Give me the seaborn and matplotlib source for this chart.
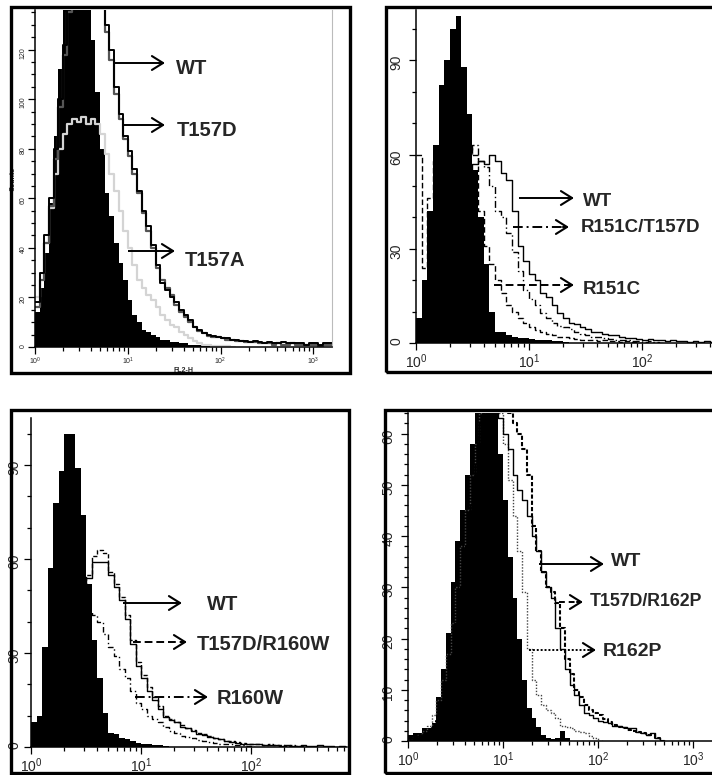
import numpy as np
import seaborn as sns
import matplotlib.pyplot as plt
from matplotlib.patches import Rectangle
from matplotlib.ticker import MultipleLocator

sns.set_style("white")
plt.rcParams['font.family'] = ['Liberation Sans', 'DejaVu Sans']
plt.rcParams['mathtext.fontset'] = 'custom'
plt.rcParams['mathtext.rm'] = 'Liberation Sans'
plt.rcParams['mathtext.it'] = 'Liberation Sans:italic'

# width of one histogram channel, in log10 units of fluorescence
BIN = 0.05

# panel A: counts per channel, starting at 10^0
ctrl_a = [14, 24, 38, 58, 85, 112, 138, 150, 158, 160, 155, 142, 124, 103, 80, 62,
          53, 42, 34, 27, 19, 13, 10, 7, 6, 5, 4, 3, 3, 2, 2, 1.5,
          1.5, 1, 1, 0.8, 0.6, 0.5, 0.4, 0.3, 0]
wt_a = [18, 30, 45, 60, 80, 100, 122, 138, 145, 150, 148, 152, 146, 144, 140, 130,
        120, 105, 94, 85, 79, 72, 63, 55, 49, 41, 33, 26, 23, 20, 18, 15,
        13, 11, 8, 7, 5.5, 5, 4.5, 4, 3.5, 3.5, 3, 3, 2.5, 2.5, 2, 2.5,
        2, 1.5, 2, 1.5, 1.5, 2, 1.5, 1.5, 1.5, 1.5, 1, 1.5, 1.5, 1, 1.5, 1.5]
t157d_a = [16, 27, 42, 57, 76, 97, 118, 135, 143, 147, 150, 147, 149, 143, 137, 127,
           116, 102, 92, 84, 77, 70, 62, 54, 47, 40, 32, 27, 24, 21, 17, 14,
           12, 10, 8, 6.5, 5.5, 4.5, 4, 4, 3.5, 3, 3, 2.5, 2.5, 2, 2, 2,
           1.5, 1.5, 1.5, 1, 1.5, 1, 1, 1.5, 1, 1, 1, 1, 1, 0.5, 1, 1]
t157a_a = [20, 30, 42, 56, 70, 80, 86, 90, 92, 91, 93, 90, 92, 90, 86, 78,
           70, 63, 55, 47, 40, 33, 27, 24, 21, 19, 16, 13, 11, 9, 8, 6,
           5, 3.5, 2.5, 1.5, 1, 0.8, 0.5, 0.5, 0.3, 0.3, 0]

# panel B
ctrl_b = [8, 20, 42, 63, 82, 90, 100, 104, 88, 73, 55, 40, 25, 10, 3.5, 3.5,
          2.5, 2, 1.5, 1.5, 1.2, 1, 1, 0.8, 0.5, 0.5, 0.3, 0]
wt_b = [5, 6, 9, 14, 20, 27, 34, 42, 50, 55, 57, 58, 57, 60, 58, 54,
        52, 42, 31, 26, 22, 20, 16, 14.5, 12, 9.5, 8, 6.5, 6, 5, 4.5, 3.5,
        3.5, 3, 2.5, 2.5, 2, 1.5, 1.5, 1.2, 1, 1.2, 0.8, 0.8, 0.5, 0.8,
        0.5, 0.5, 0.3, 0.5, 0.3, 0.5, 0.3]
r151c_t157d_b = [4, 5, 8, 13, 19, 26, 34, 43, 52, 60, 63, 58, 56, 50, 42, 40,
                 35, 29, 23, 17, 14, 12, 9.5, 8, 6.5, 5.5, 5, 4.3, 3.5, 3, 2.5, 2,
                 1.8, 1.5, 1.2, 1, 1, 0.8, 0.5, 0.5, 0.3, 0.5, 0.3, 0]
r151c_b = [60, 24, 46, 58, 60, 61, 62, 61, 63, 62, 60, 42, 31, 25, 20, 16,
           12, 10, 8, 6.5, 5, 4, 3.5, 3, 2.5, 2, 1.8, 1.5, 1.2, 1, 1, 0.8,
           0.5, 0.8, 0.5, 0.5, 0.3, 0.5, 0.3, 0]

# panel C
ctrl_c = [8, 10, 32, 57, 78, 88, 100, 100, 89, 74, 52, 34, 22, 11, 4.5, 4,
          3, 2.5, 1.8, 1.2, 1, 0.8, 0.5, 0.5, 0.3, 0]
wt_c = [3, 4, 6, 10, 15, 22, 30, 38, 45, 50, 54, 59, 59, 59, 55, 51,
        47, 41, 33, 26, 22, 18, 15, 12, 9.5, 8.5, 8, 6.5, 6, 5, 4.2, 3.8,
        3.3, 3, 2.5, 2, 1.5, 1.2, 1, 1, 0.8, 0.8, 0.6, 0.5, 0.6, 0.3,
        0.5, 0.3, 0.3, 0.5, 0.3, 0.3, 0.5, 0.3, 0.3, 0, 0.3, 0]
t157d_r160w_c = [3, 4, 6, 9, 14, 21, 29, 37, 44, 50, 55, 61, 63, 62, 56, 52,
                 48, 42, 34, 27, 23, 19, 16, 13, 10, 9, 8, 7, 6, 5.5, 4.5, 4,
                 3.5, 3, 2.5, 2, 1.8, 1.5, 1.2, 1, 1, 0.8, 0.6, 0.8, 0.5, 0.5,
                 0.3, 0.5, 0.3, 0.3, 0]
r160w_c = [3, 4, 7, 11, 17, 23, 29, 35, 39, 42, 43, 42, 40, 36, 32, 29,
           25, 22, 18, 14, 12, 10, 9, 8, 6.5, 5, 4.5, 3.5, 3.3, 2.8, 2.2, 1.8,
           1.5, 1.2, 1, 0.8, 0.8, 0.5, 0.5, 0.3, 0]

# panel D
ctrl_d = [1.2, 1.5, 1.5, 2.5, 2.5, 3.5, 8.5, 14, 21, 31, 39, 45, 52, 58, 64, 68,
          70, 70, 66, 56, 47, 36, 28, 20, 12, 6.5, 4.5, 2.8, 1.2, 0.5, 0.3, 0.5,
          2, 0.5, 0]
wt_d = [0.5, 0.5, 1, 1, 1.5, 2, 4, 7, 11, 16, 23, 30, 38, 46, 54, 62,
        68, 70, 68, 63, 60, 57, 52, 49, 47, 44, 40, 37, 33, 30, 28, 22,
        18, 14, 11, 9, 7, 5.5, 5, 4.5, 4, 3.8, 3.5, 3, 3, 2.8, 2.5, 2.5,
        1.8, 1.5, 1.2, 1.5, 0.5, 0]
t157d_r162p_d = [0.5, 0.8, 1, 1.2, 1.5, 2.5, 4, 7, 11, 16, 22, 29, 36, 44, 52, 60,
                 66, 70, 72, 70, 66, 64, 62, 60, 57, 52, 42, 37, 33, 30, 29, 27,
                 22, 16, 13, 10, 8.5, 7, 6, 5.5, 5, 4.2, 3.8, 3.2, 2.8, 2.5, 2.2, 2,
                 1.8, 1.5, 1.2, 1.2, 0.5, 0]
r162p_d = [0.5, 0.8, 1.2, 2, 3, 5, 8, 12, 17, 23, 30, 38, 45, 52, 58, 64,
           68, 69, 68, 64, 58, 51, 44, 37, 29, 18, 12, 9, 7, 6, 5.5, 4.5,
           3, 2.8, 2.5, 2, 1.8, 1.5, 1, 0.5, 0]

W, H = 712, 775
fig = plt.figure(figsize=(W / 100, H / 100), dpi=100)


def px_axes(left, top, right, bottom):
    return fig.add_axes([left / W, 1 - bottom / H, (right - left) / W, (bottom - top) / H])


def frame(left, top, right, bottom):
    fig.add_artist(Rectangle((left / W, 1 - bottom / H), (right - left) / W, (bottom - top) / H,
                             transform=fig.transFigure, fill=False, lw=2.4, ec='black', zorder=5))


def hist(ax, counts, fill=False, **kw):
    n = len(counts)
    chan = 10 ** ((np.arange(n) + 0.5) * BIN)
    sns.histplot(x=chan, weights=counts, bins=n, binrange=(0, n * BIN), element='step',
                 fill=fill, log_scale=True, ax=ax, **kw)


def style(ax, xmax, ymax, ymajor, yminor, size, ypad):
    ax.set_xlim(1, 10 ** xmax)
    ax.set_ylim(0, ymax)
    ax.yaxis.set_major_locator(MultipleLocator(ymajor))
    ax.yaxis.set_minor_locator(MultipleLocator(yminor))
    ax.set_xlabel('')
    ax.set_ylabel('')
    sns.despine(ax=ax)
    for s in ['left', 'bottom']:
        ax.spines[s].set_linewidth(1.1)
        ax.spines[s].set_color('black')
    ax.tick_params(which='both', direction='out', color='black', width=0.9,
                   left=True, bottom=True, labelsize=size)
    ax.tick_params(which='major', length=5)
    ax.tick_params(which='minor', length=3)
    ax.tick_params(axis='y', labelrotation=90, pad=ypad)
    ax.tick_params(axis='x', pad=1.5)
    ax.patch.set_alpha(0)


# ---- panel A
frame(11, 7, 350, 373)
ax = px_axes(35, 10, 332, 347)
hist(ax, ctrl_a, fill=True, color='black', alpha=1, linewidth=0)
hist(ax, t157a_a, color='#d4d4d4', linewidth=1.6)
hist(ax, t157d_a, color='#555555', linewidth=1.6)
hist(ax, wt_a, color='black', linewidth=1.4)
style(ax, 3.2, 136, 20, 5, 5, 1)
ax.spines['right'].set_visible(True)
ax.spines['right'].set_color('#bbbbbb')
ax.set_xlabel('FL2-H', fontsize=5, fontweight='bold', labelpad=0)
ax.set_ylabel('Counts', fontsize=5, fontweight='bold', labelpad=2)

# ---- panel B
frame(386, 7, 716, 372)
ax = px_axes(416, 10, 712, 343)
hist(ax, ctrl_b, fill=True, color='black', alpha=1, linewidth=0)
hist(ax, r151c_b, color='black', linewidth=1.0, linestyle=(0, (4, 2)))
hist(ax, r151c_t157d_b, color='black', linewidth=1.0, linestyle=(0, (5, 2, 1, 2)))
hist(ax, wt_b, color='black', linewidth=1.0)
style(ax, 2.62, 106, 30, 10, 10, 4)

# ---- panel C
frame(11, 410, 349, 773)
ax = px_axes(31, 418, 347, 747)
hist(ax, ctrl_c, fill=True, color='black', alpha=1, linewidth=0)
hist(ax, r160w_c, color='black', linewidth=1.0, linestyle=(0, (4, 2, 1, 2)))
hist(ax, t157d_r160w_c, color='black', linewidth=1.0, linestyle=(0, (3, 1.5)))
hist(ax, wt_c, color='black', linewidth=1.0)
style(ax, 2.87, 105, 30, 10, 10, 2)

# ---- panel D
frame(385, 410, 716, 773)
ax = px_axes(408, 413, 712, 741)
hist(ax, ctrl_d, fill=True, color='black', alpha=1, linewidth=0)
hist(ax, r162p_d, color='#444444', linewidth=1.0, linestyle=(0, (1, 1.2)))
hist(ax, t157d_r162p_d, color='black', linewidth=1.5, linestyle=(0, (2, 1)))
hist(ax, wt_d, color='black', linewidth=1.0)
style(ax, 3.2, 64, 10, 2, 10, 4)

# ---- arrows and labels, placed in figure pixels
over = fig.add_axes([0, 0, 1, 1], zorder=10)
over.set_xlim(0, W)
over.set_ylim(H, 0)
over.axis('off')


def arrow(x0, x1, y, label, tx, ty, size, ls='-'):
    over.plot([x0, x1 - 2], [y, y], color='black', lw=1.4, ls=ls, solid_capstyle='butt')
    over.annotate('', xy=(x1, y), xytext=(x1 - 6, y),
                  arrowprops=dict(arrowstyle='->,head_length=0.8,head_width=0.5',
                                  lw=1.5, color='black', shrinkA=0, shrinkB=0))
    over.text(tx, ty, label, fontsize=size, fontweight='bold', va='center', ha='left')


arrow(115, 165, 63, 'WT', 176, 69, 14.5)
arrow(122, 165, 125, 'T157D', 177, 130, 14.5)
arrow(128, 175, 251, 'T157A', 185, 260, 14.5)

arrow(519, 574, 198, 'WT', 583, 201, 13.5)
arrow(513, 569, 227, 'R151C/T157D', 581, 228, 13.5, ls=(0, (5, 2, 1, 2)))
arrow(494, 574, 285, 'R151C', 583, 289, 13.5, ls=(0, (4, 2)))

arrow(123, 182, 603, 'WT', 207, 605, 14.5)
arrow(133, 187, 642, 'T157D/R160W', 197, 645, 14.5, ls=(0, (4, 2)))
arrow(135, 208, 697, 'R160W', 217, 699, 14.5, ls=(0, (5, 2, 1, 2)))

arrow(539, 604, 564, 'WT', 611, 561, 14)
arrow(559, 583, 602, 'T157D/R162P', 590, 602, 12.8, ls=(0, (3, 2)))
arrow(529, 596, 650, 'R162P', 603, 651, 14, ls=(0, (1, 1)))

fig.savefig('out.png', dpi=100)
